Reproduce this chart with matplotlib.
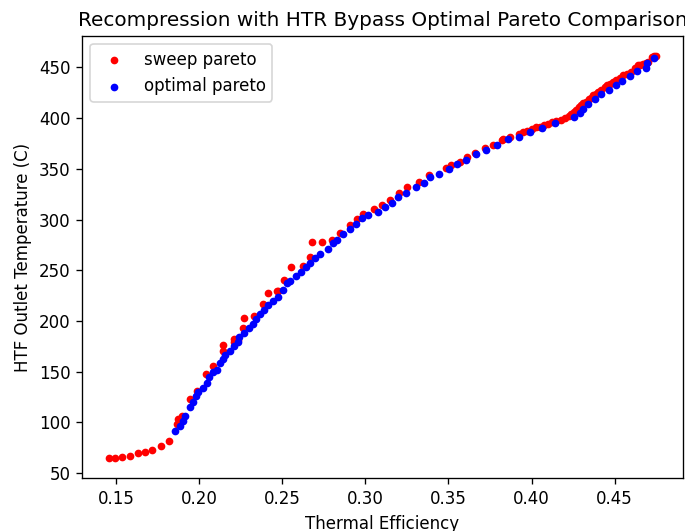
"""
Recompression with HTR bypass: sweep pareto vs optimal pareto.
"""
import matplotlib
matplotlib.use("Agg")
import matplotlib.pyplot as plt

# sweep pareto (red)
sweep_eff = [
    0.1459, 0.1495, 0.1538, 0.1586, 0.1629, 0.1672, 0.1714, 0.1769, 0.1818,
    0.1866, 0.1873, 0.1897, 0.1945, 0.1988, 0.2043, 0.2085, 0.2146, 0.2146,
    0.2207, 0.2207, 0.2231, 0.2262, 0.2268, 0.2329, 0.2383, 0.2413, 0.2468,
    0.2473, 0.2513, 0.2553, 0.2625, 0.2669, 0.2679, 0.2740, 0.2801, 0.2845,
    0.2906, 0.2949, 0.2988, 0.3050, 0.3101, 0.3151, 0.3203, 0.3253, 0.3324,
    0.3385, 0.3486, 0.3516, 0.3567, 0.3612, 0.3659, 0.3719, 0.3770, 0.3821,
    0.3831, 0.3872, 0.3922, 0.3973, 0.4024, 0.4074, 0.4125, 0.4176, 0.4226,
    0.4257, 0.4277, 0.4297, 0.4328, 0.4358, 0.4389, 0.4419, 0.4470, 0.4510,
    0.4551, 0.4601, 0.4642, 0.4672, 0.4703, 0.4723, 0.4747,
    # extra sweep points packed along the upper band
    0.4240, 0.4265, 0.4285, 0.4310, 0.4345, 0.4372, 0.4400, 0.4440, 0.4455,
    0.4490, 0.4530, 0.4575, 0.4620, 0.4655, 0.4690, 0.4735, 0.4000, 0.4100,
    0.4200, 0.3950, 0.4050, 0.4150,
]
sweep_temp = [
    64.7, 64.7, 65.7, 66.7, 69.7, 70.6, 72.6, 76.5, 81.4,
    99.0, 103.0, 106.0, 122.7, 130.6, 147.3, 156.0, 170.0, 176.8,
    179.7, 182.7, 181.7, 193.5, 203.3, 205.3, 217.1, 227.9, 229.9,
    230.0, 240.0, 253.4, 254.4, 263.3, 278.3, 278.3, 280.0, 286.8,
    294.7, 300.3, 305.0, 310.0, 314.4, 319.3, 325.9, 331.8, 337.4,
    343.9, 350.4, 353.7, 357.0, 361.9, 365.2, 370.1, 373.3, 378.3,
    379.0, 381.8, 384.8, 387.4, 390.8, 393.0, 396.2, 398.6, 401.8,
    406.1, 409.4, 412.7, 416.0, 420.2, 424.1, 427.4, 434.0, 437.2,
    442.1, 445.4, 452.0, 453.6, 455.2, 460.1, 460.8,
    404.5, 408.0, 411.0, 414.5, 418.5, 422.5, 425.5, 430.5, 432.5,
    436.0, 440.0, 443.5, 449.0, 452.5, 454.5, 461.5, 389.5, 394.5,
    400.5, 386.5, 391.5, 397.5,
]

# optimal pareto (blue)
opt_eff = [
    0.1853, 0.1884, 0.1902, 0.1915, 0.1945, 0.1963, 0.1982, 0.1994, 0.2024,
    0.2049, 0.2061, 0.2085, 0.2109, 0.2128, 0.2146, 0.2158, 0.2183, 0.2207,
    0.2231, 0.2237, 0.2268, 0.2298, 0.2322, 0.2340, 0.2365, 0.2389, 0.2413,
    0.2444, 0.2474, 0.2503, 0.2529, 0.2547, 0.2584, 0.2610, 0.2645, 0.2665,
    0.2695, 0.2726, 0.2777, 0.2807, 0.2827, 0.2868, 0.2906, 0.2943, 0.2979,
    0.3016, 0.3077, 0.3121, 0.3162, 0.3198, 0.3247, 0.3303, 0.3355, 0.3391,
    0.3442, 0.3502, 0.3551, 0.3604, 0.3668, 0.3725, 0.3790, 0.3857, 0.3922,
    0.3989, 0.4060, 0.4141, 0.4253, 0.4291, 0.4307, 0.4338, 0.4383, 0.4419,
    0.4465, 0.4506, 0.4544, 0.4591, 0.4636, 0.4687, 0.4697, 0.4737,
]
opt_temp = [
    91.6, 96.2, 101.1, 106.0, 114.9, 119.8, 125.7, 129.6, 133.5,
    139.4, 145.3, 149.3, 152.2, 159.1, 163.0, 167.0, 170.0, 175.0,
    179.7, 184.6, 188.6, 193.5, 197.4, 202.3, 207.2, 211.2, 216.1,
    220.0, 224.0, 230.8, 237.7, 239.7, 244.0, 248.8, 253.7, 257.0,
    262.0, 266.2, 270.8, 277.0, 280.0, 285.6, 290.8, 296.0, 301.3,
    304.5, 307.8, 312.7, 316.6, 322.0, 326.5, 331.8, 336.3, 341.6,
    344.8, 349.4, 354.7, 358.6, 364.5, 368.4, 373.3, 379.2, 381.5,
    386.4, 390.7, 395.6, 401.2, 405.1, 409.4, 414.3, 419.2, 424.1,
    427.4, 432.3, 436.5, 441.1, 446.0, 449.3, 454.2, 459.5,
]


def main():
    fig = plt.figure(figsize=(685 / 120, 531 / 120), dpi=120)
    fig.subplots_adjust(left=0.1197, right=0.9971, bottom=0.099, top=0.933)
    ax = fig.add_subplot(111)

    ax.scatter(sweep_eff, sweep_temp, c="red", s=13, label="sweep pareto")
    ax.scatter(opt_eff, opt_temp, c="blue", s=13, label="optimal pareto")

    ax.set_title("Recompression with HTR Bypass Optimal Pareto Comparison")
    ax.set_xlabel("Thermal Efficiency")
    ax.set_ylabel("HTF Outlet Temperature (C)")
    ax.legend(loc="upper left")

    fig.savefig("out.png", dpi=120)
    plt.close(fig)


if __name__ == "__main__":
    main()
